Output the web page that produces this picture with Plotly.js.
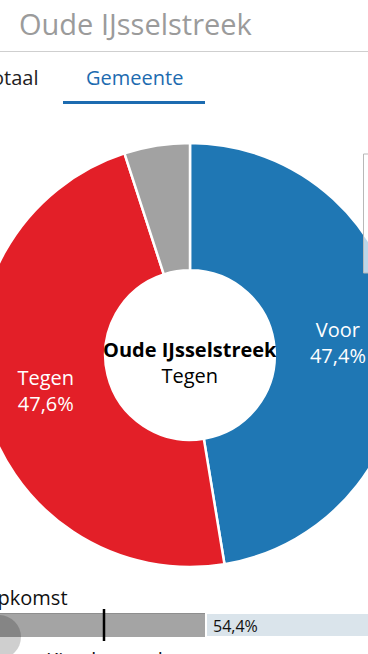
<!DOCTYPE html>
<html>
<head>
<meta charset="utf-8">
<script src="https://cdn.plot.ly/plotly-3.0.1.min.js"></script>
<style>
html,body{margin:0;padding:0;overflow:hidden;background:#fff;width:368px;height:654px;}
#chart{position:absolute;left:-30px;top:0;width:460px;height:654px;}
</style>
</head>
<body>
<div id="chart"></div>
<script>
// ---- data ----
const regionName = 'Oude IJsselstreek';
const tabLabels = ['Totaal', 'Gemeente'];
const sliceLabels = ['Voor', 'Tegen', 'Blanco'];
const sliceValues = [47.4, 47.6, 5.0];
const sliceColors = ['#1f77b4', '#e31f28', '#a2a2a2'];
const selectedLabel = 'Tegen';
const turnoutLabel = 'Opkomst';
const turnoutValue = 54.4;
const thresholdValue = 30;
const thresholdLabel = 'Kiesdrempel';

// ---- helpers (window pixel -> paper) ----
const OFF = 30, FW = 460, FH = 654;
const px = wx => (wx + OFF) / FW;
const py = wy => 1 - wy / FH;
const fmt = v => v.toFixed(1).replace('.', ',') + '%';
const FONT = 'Open Sans, sans-serif';

const sliceText = sliceLabels.map((l, i) => i < 2 ? l + '<br>' + fmt(sliceValues[i]) : '');

const pie = {
  type: 'pie',
  labels: sliceLabels,
  values: sliceValues,
  text: sliceText,
  textinfo: 'text',
  textposition: 'inside',
  insidetextorientation: 'horizontal',
  insidetextfont: {family: FONT, size: 20, color: '#ffffff'},
  sort: false,
  direction: 'clockwise',
  rotation: 0,
  hole: 0.4,
  marker: {colors: sliceColors, line: {color: '#ffffff', width: 2.5}},
  domain: {x: [px(190 - 212), px(190 + 212)], y: [py(567), py(143)]},
  hoverinfo: 'none',
  showlegend: false
};

const barDone = {
  type: 'bar', orientation: 'h',
  y: [turnoutLabel], x: [turnoutValue],
  marker: {color: '#a4a4a4', line: {color: '#8e8e8e', width: 1}},
  hoverinfo: 'none', showlegend: false, xaxis: 'x', yaxis: 'y'
};
const barRest = {
  type: 'bar', orientation: 'h',
  y: [turnoutLabel], x: [100 - turnoutValue],
  marker: {color: '#dae4eb', line: {color: '#ffffff', width: 2}},
  hoverinfo: 'none', showlegend: false, xaxis: 'x', yaxis: 'y'
};

const annotations = [
  {xref: 'paper', yref: 'paper', x: px(17), y: py(23), xanchor: 'left', yanchor: 'middle',
   text: regionName, showarrow: false, font: {family: FONT, size: 29, color: '#9b9b9b'}},
  {xref: 'paper', yref: 'paper', x: px(-21), y: py(77), xanchor: 'left', yanchor: 'middle',
   text: tabLabels[0], showarrow: false, font: {family: FONT, size: 20, color: '#222222'}},
  {xref: 'paper', yref: 'paper', x: px(134), y: py(77), xanchor: 'center', yanchor: 'middle',
   text: tabLabels[1], showarrow: false, font: {family: FONT, size: 20, color: '#1d6bb0'}},
  {xref: 'paper', yref: 'paper', x: px(190), y: py(362), xanchor: 'center', yanchor: 'middle',
   text: '<b>' + regionName + '</b><br>' + selectedLabel, showarrow: false,
   font: {family: FONT, size: 20, color: '#000000'}},
  {xref: 'paper', yref: 'paper', x: px(-20), y: py(597), xanchor: 'left', yanchor: 'middle',
   text: turnoutLabel, showarrow: false, font: {family: FONT, size: 20, color: '#111111'}},
  {xref: 'x', yref: 'paper', x: turnoutValue, xshift: 5, y: py(625.5), xanchor: 'left', yanchor: 'middle',
   text: fmt(turnoutValue), showarrow: false, font: {family: FONT, size: 16, color: '#111111'}},
  {xref: 'x', yref: 'paper', x: thresholdValue, y: py(659), xanchor: 'center', yanchor: 'middle',
   text: thresholdLabel, showarrow: false, font: {family: FONT, size: 20, color: '#111111'}}
];

const shapes = [
  {type: 'line', xref: 'paper', yref: 'paper', x0: 0, x1: 1, y0: py(51.5), y1: py(51.5),
   line: {color: '#cfcfcf', width: 1}},
  {type: 'rect', xref: 'paper', yref: 'paper', x0: px(63), x1: px(205), y0: py(104), y1: py(101),
   fillcolor: '#1c6bb0', line: {width: 0}},
  {type: 'line', xref: 'x', yref: 'paper', x0: thresholdValue, x1: thresholdValue, y0: py(641), y1: py(609),
   line: {color: '#000000', width: 2.5}},
  {type: 'circle', xref: 'paper', yref: 'paper', x0: px(-23), x1: px(21), y0: py(659), y1: py(615),
   fillcolor: 'rgba(0,0,0,0.19)', line: {width: 0}},
  {type: 'rect', xref: 'paper', yref: 'paper', x0: px(363.5), x1: px(380), y0: py(273), y1: py(154),
   fillcolor: 'rgba(255,255,255,0.7)', line: {color: '#b8b8b8', width: 1}}
];

const layout = {
  width: FW, height: FH,
  margin: {l: 0, r: 0, t: 0, b: 0, pad: 0},
  paper_bgcolor: '#ffffff', plot_bgcolor: 'rgba(0,0,0,0)',
  showlegend: false,
  barmode: 'stack', bargap: 0,
  xaxis: {domain: [(8.6) / FW, (426.6) / FW], range: [0, 100], showgrid: false, zeroline: false,
          showticklabels: false, showline: false, ticks: '', fixedrange: true},
  yaxis: {domain: [py(637), py(613)], type: 'category', range: [-0.5, 0.5], showgrid: false,
          zeroline: false, showticklabels: false, showline: false, ticks: '', fixedrange: true},
  annotations: annotations,
  shapes: shapes,
  font: {family: FONT}
};

Plotly.newPlot('chart', [pie, barDone, barRest], layout, {displayModeBar: false, staticPlot: true});
</script>
</body>
</html>
